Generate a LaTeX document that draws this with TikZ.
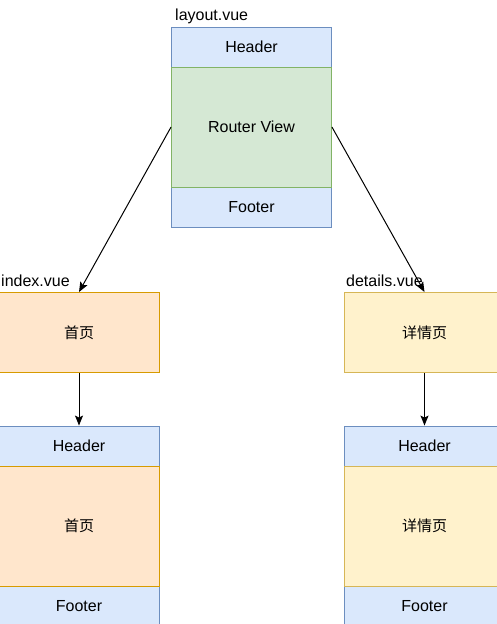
\documentclass[tikz,border=0pt]{standalone}
\usepackage{fontspec}
\setmainfont{Liberation Sans}
\newfontfamily\cjk{Noto Sans CJK SC}
\usetikzlibrary{arrows.meta}
\definecolor{bluefill}{HTML}{DAE8FC}
\definecolor{bluedraw}{HTML}{6C8EBF}
\definecolor{greenfill}{HTML}{D5E8D4}
\definecolor{greendraw}{HTML}{82B366}
\definecolor{orangefill}{HTML}{FFE6CC}
\definecolor{orangedraw}{HTML}{D79B00}
\definecolor{yellowfill}{HTML}{FFF2CC}
\definecolor{yellowdraw}{HTML}{D6B656}
\tikzset{
	part/.style={rectangle, minimum width=160pt, inner sep=0pt, line width=0.9pt, font=\fontsize{16}{18}\selectfont},
	bar/.style={part, minimum height=40pt, fill=bluefill, draw=bluedraw},
	view/.style={part, minimum height=120pt, fill=greenfill, draw=greendraw},
	home/.style={part, fill=orangefill, draw=orangedraw, font=\cjk\fontsize{15}{18}\selectfont},
	info/.style={part, fill=yellowfill, draw=yellowdraw, font=\cjk\fontsize{15}{18}\selectfont},
	file/.style={inner sep=0pt, font=\fontsize{16}{18}\selectfont}
}
\begin{document}
\begin{tikzpicture}[x=1pt, y=-1pt]
	\useasboundingbox (0,0) rectangle (497,624);
	% layout.vue
	\node[file, anchor=base west] at (175,20)(lname){layout.vue};
	\node[bar] at (251.5,47)(lhead){Header};
	\node[bar] at (251.5,207)(lfoot){Footer};
	\node[view] at (251.5,127)(lview){Router View};
	% index.vue
	\node[file, anchor=base west] at (1,286)(iname){index.vue};
	\node[home, minimum height=80pt] at (79,332.5)(ipage){首页};
	\node[bar] at (79,446)(ihead){Header};
	\node[bar] at (79,606)(ifoot){Footer};
	\node[home, minimum height=120pt] at (79,526)(ibody){首页};
	% details.vue
	\node[info, minimum height=80pt] at (424.5,332.5)(dpage){详情页};
	\node[bar] at (424.5,446)(dhead){Header};
	\node[bar] at (424.5,606)(dfoot){Footer};
	\node[info, minimum height=120pt] at (424.5,526)(dbody){详情页};
	\path[line width=1pt, -{Stealth[length=10pt, width=8pt, inset=2pt]}] (lview.west) edge (ipage.north)
	(lview.east) edge (dpage.north)
	(ipage) edge (ihead)
	(dpage) edge (dhead);
	\node[file, anchor=base west] at (346,286)(dname){details.vue};
\end{tikzpicture}
\end{document}
